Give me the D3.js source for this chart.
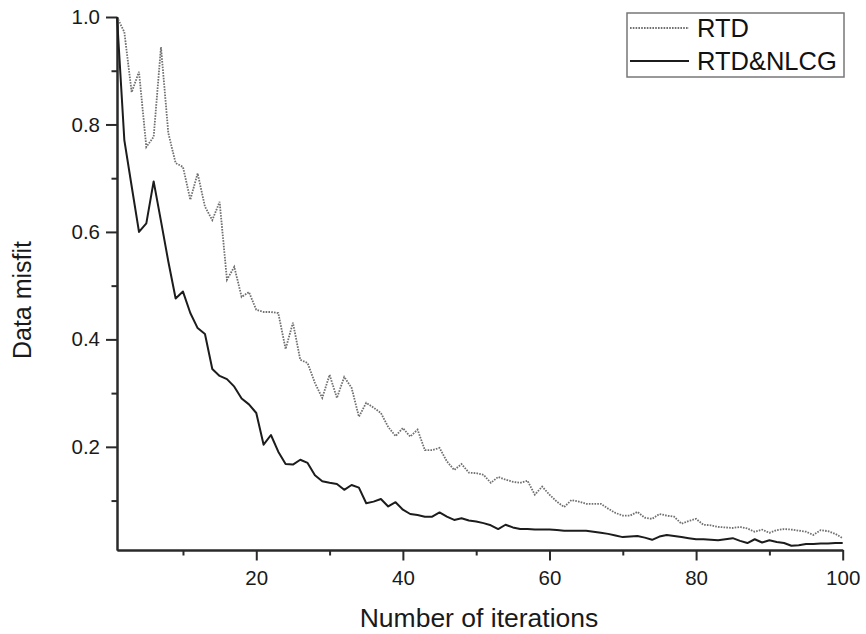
<!DOCTYPE html>
<html>
<head>
<meta charset="utf-8">
<script src="https://cdn.jsdelivr.net/npm/d3@7"></script>
<style>
  body { margin: 0; background: #fff; }
  svg { display: block; font-family: Arial, "Liberation Sans", sans-serif; }
  .axis path, .axis line { stroke: #2a2a2a; stroke-width: 2; }
  .axis text { fill: #1a1a1a; font-size: 20.5px; font-family: Arial, "Liberation Sans", sans-serif; }
</style>
</head>
<body>
<svg id="chart" width="866" height="634"></svg>
<script>
// iteration number 1..100
const iterations = d3.range(1, 101);

// data misfit
const rtd = [
  1.0, 0.972, 0.86, 0.898, 0.758, 0.777, 0.944, 0.784, 0.728, 0.721,
  0.66, 0.709, 0.647, 0.622, 0.656, 0.511, 0.535, 0.479, 0.488, 0.455,
  0.451, 0.451, 0.449, 0.382, 0.431, 0.362, 0.356, 0.319, 0.291, 0.334,
  0.291, 0.33, 0.31, 0.256, 0.282, 0.273, 0.263, 0.237, 0.22, 0.235,
  0.219, 0.232, 0.194, 0.194, 0.198, 0.173, 0.157, 0.168, 0.152, 0.151,
  0.148, 0.133, 0.144, 0.139, 0.135, 0.133, 0.137, 0.111, 0.126, 0.111,
  0.098, 0.088, 0.101, 0.098, 0.094, 0.094, 0.094, 0.085, 0.077, 0.072,
  0.072, 0.079, 0.068, 0.066, 0.075, 0.072, 0.07, 0.057, 0.062, 0.066,
  0.055, 0.054, 0.051, 0.05, 0.049, 0.051, 0.048, 0.042, 0.046, 0.04,
  0.045, 0.047, 0.046, 0.044, 0.042, 0.036, 0.045, 0.043, 0.038, 0.03
];

const rtdNlcg = [
  1.0, 0.771, 0.685, 0.6, 0.616, 0.694, 0.62, 0.545, 0.476, 0.489,
  0.449, 0.421, 0.41, 0.345, 0.332, 0.326, 0.312, 0.29, 0.279, 0.263,
  0.204, 0.222, 0.191, 0.168, 0.167, 0.176, 0.17, 0.147, 0.136, 0.133,
  0.131, 0.12, 0.129, 0.124, 0.095, 0.098, 0.103, 0.089, 0.097, 0.083,
  0.075, 0.073, 0.07, 0.07, 0.078, 0.07, 0.064, 0.067, 0.063, 0.061,
  0.058, 0.054, 0.047, 0.055, 0.05, 0.047, 0.047, 0.046, 0.046, 0.046,
  0.045, 0.044, 0.044, 0.044, 0.044, 0.042, 0.04, 0.038, 0.035, 0.032,
  0.033, 0.034, 0.031, 0.027, 0.033, 0.036, 0.034, 0.032, 0.03, 0.028,
  0.028, 0.027, 0.026, 0.028, 0.03, 0.025, 0.021, 0.028, 0.022, 0.026,
  0.023, 0.021, 0.016, 0.017, 0.019, 0.019, 0.02, 0.02, 0.021, 0.021
];

const xMajor = [20, 40, 60, 80, 100];
const xMinor = [10, 30, 50, 70, 90];
const yMajor = [0.2, 0.4, 0.6, 0.8, 1.0];
const yMinor = [0.1, 0.3, 0.5, 0.7, 0.9];
const seriesNames = ["RTD", "RTD&NLCG"];

const svg = d3.select("#chart");

const xScale = d3.scaleLinear()
  .domain([1, 100])
  .range([117, 842.7]);

const yScale = d3.scaleLinear()
  .domain([0.008, 1.0])
  .range([550, 17]);

// minor ticks first, then major with labels
svg.append("g")
  .attr("class", "axis")
  .attr("transform", `translate(0, ${yScale.range()[0]})`)
  .call(d3.axisBottom(xScale).tickValues(xMinor).tickSize(5.5).tickSizeOuter(0).tickFormat(""));

svg.append("g")
  .attr("class", "axis")
  .attr("transform", `translate(0, ${yScale.range()[0]})`)
  .call(d3.axisBottom(xScale).tickValues(xMajor).tickSize(10.5).tickSizeOuter(0).tickPadding(10).tickFormat(d3.format("d")));

svg.append("g")
  .attr("class", "axis")
  .attr("transform", `translate(${xScale.range()[0]}, 0)`)
  .call(d3.axisLeft(yScale).tickValues(yMinor).tickSize(5.5).tickSizeOuter(0).tickFormat(""));

svg.append("g")
  .attr("class", "axis")
  .attr("transform", `translate(${xScale.range()[0]}, 0)`)
  .call(d3.axisLeft(yScale).tickValues(yMajor).tickSize(11).tickSizeOuter(0).tickPadding(6).tickFormat(d3.format(".1f")));

const line = d3.line()
  .x((d, i) => xScale(iterations[i]))
  .y((d) => yScale(d));

svg.append("path")
  .datum(rtd)
  .attr("fill", "none")
  .attr("stroke", "#707070")
  .attr("stroke-width", 1.8)
  .attr("stroke-dasharray", "1.6,1.2")
  .attr("d", line);

svg.append("path")
  .datum(rtdNlcg)
  .attr("fill", "none")
  .attr("stroke", "#1c1c1c")
  .attr("stroke-width", 2)
  .attr("stroke-linejoin", "round")
  .attr("d", line);

// axis titles
svg.append("text")
  .attr("x", 479)
  .attr("y", 627)
  .attr("text-anchor", "middle")
  .attr("font-size", 26.5)
  .attr("fill", "#1a1a1a")
  .text("Number of iterations");

svg.append("text")
  .attr("transform", "translate(31, 300) rotate(-90)")
  .attr("text-anchor", "middle")
  .attr("font-size", 25)
  .attr("fill", "#1a1a1a")
  .text("Data misfit");

// legend
const legend = svg.append("g");
legend.append("rect")
  .attr("x", 627)
  .attr("y", 13)
  .attr("width", 217)
  .attr("height", 64)
  .attr("fill", "#fff")
  .attr("stroke", "#777")
  .attr("stroke-width", 1.5);

const legendRows = [
  { name: seriesNames[0], y: 28, dash: "1.6,1.2", color: "#707070", w: 1.8 },
  { name: seriesNames[1], y: 61, dash: null, color: "#1c1c1c", w: 2 }
];
legendRows.forEach((r) => {
  legend.append("line")
    .attr("x1", 630).attr("x2", 689)
    .attr("y1", r.y).attr("y2", r.y)
    .attr("stroke", r.color)
    .attr("stroke-width", r.w)
    .attr("stroke-dasharray", r.dash);
  legend.append("text")
    .attr("x", 697)
    .attr("y", r.y + 8.5)
    .attr("font-size", 25.5)
    .attr("fill", "#111")
    .text(r.name);
});
</script>
</body>
</html>
